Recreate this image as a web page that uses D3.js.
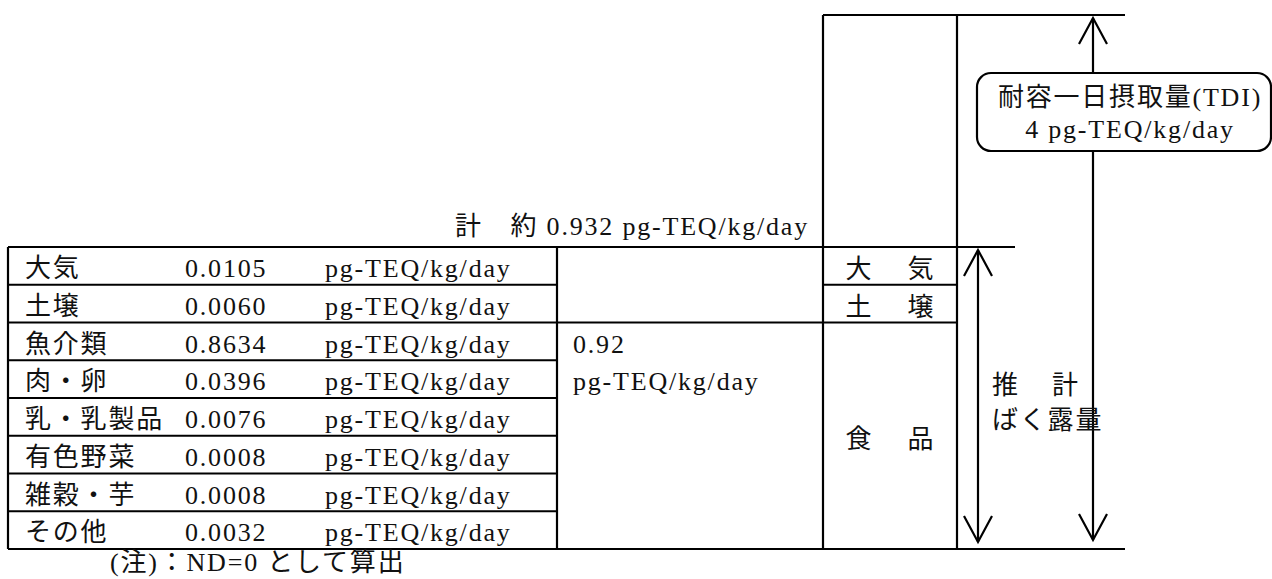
<!DOCTYPE html>
<html>
<head>
<meta charset="utf-8">
<script src="https://cdn.jsdelivr.net/npm/d3@7"></script>
<style>
  html, body { margin: 0; padding: 0; background: #fff; }
  svg text { font-family: 'Liberation Serif', 'Noto Sans CJK JP', serif; font-size: 26px; fill: #111; letter-spacing: 1.8px; }
</style>
</head>
<body>
<svg id="chart" width="1272" height="579"></svg>
<script>
// ---- data ----
const rowNames = ["大気", "土壌", "魚介類", "肉・卵", "乳・乳製品", "有色野菜", "雑穀・芋", "その他"];
const rowValues = [0.0105, 0.0060, 0.8634, 0.0396, 0.0076, 0.0008, 0.0008, 0.0032];
const unitLabel = "pg-TEQ/kg/day";
const foodTotal = 0.92;
const grandTotal = 0.932;
const tdiValue = 4;
const sourceLabels = ["大　気", "土　壌", "食　品"];
const sourceFirstRow = ["大気", "土壌", "魚介類"];
const sourceLastRow = ["大気", "土壌", "その他"];
const estimateLabel = ["推　計", "ばく露量"];
const tdiLabel = "耐容一日摂取量(TDI)";
const totalPrefix = "計　約";
const noteText = "(注)：ND=0 として算出";

// ---- layout ----
const svg = d3.select("#chart");
const y = d3.scaleBand().domain(rowNames).range([247, 549]).padding(0);
const rh = y.bandwidth();
const xL = 8, xMid = 557, xSrc = 823, xSrcR = 957, xTopR = 1015, xFar = 1125;
const colName = 25, colVal = 185, colUnit = 325;
const fmt = d3.format(".4f");
const base = d => y(d) + 30;

const g = svg.append("g").attr("stroke", "#000").attr("stroke-width", 2.2).attr("fill", "none");
function line(x1, y1, x2, y2) { g.append("line").attr("x1", x1).attr("y1", y1).attr("x2", x2).attr("y2", y2); }

const yTop = y(rowNames[0]);
const yBottom = y(rowNames[rowNames.length - 1]) + rh;

// outer structure
line(xL, yTop, xTopR, yTop);
line(xL, yBottom, xFar, yBottom);
line(xL, yTop, xL, yBottom);
line(xMid, yTop, xMid, yBottom);
line(xSrc, 15, xSrc, yBottom);
line(xSrcR, 15, xSrcR, yBottom);
line(xSrc, 15, xFar, 15);

// row lines
rowNames.slice(1).forEach(n => {
  const yy = y(n);
  if (n === "魚介類") line(xL, yy, xSrcR, yy);
  else if (n === "土壌") { line(xL, yy, xMid, yy); line(xSrc, yy, xSrcR, yy); }
  else line(xL, yy, xMid, yy);
});

// table text
const t = svg.append("g");
t.selectAll("text.name").data(rowNames).join("text").attr("class", "name")
  .attr("x", colName).attr("y", d => base(d)).text(d => d);
t.selectAll("text.val").data(rowValues).join("text").attr("class", "val")
  .attr("x", colVal).attr("y", (d, i) => base(rowNames[i])).text(d => fmt(d));
t.selectAll("text.unit").data(rowValues).join("text").attr("class", "unit")
  .attr("x", colUnit).attr("y", (d, i) => base(rowNames[i])).text(unitLabel);

// food subtotal
t.append("text").attr("x", xMid + 16).attr("y", base("魚介類")).text(d3.format(".2f")(foodTotal));
t.append("text").attr("x", xMid + 16).attr("y", base("肉・卵")).text(unitLabel);

// grand total
t.append("text").attr("x", xSrc - 14).attr("y", yTop - 12).attr("text-anchor", "end")
  .text(totalPrefix + " " + d3.format(".3f")(grandTotal) + " " + unitLabel);

// source labels
sourceLabels.forEach((s, i) => {
  const y0 = y(sourceFirstRow[i]), y1 = y(sourceLastRow[i]) + rh;
  t.append("text").attr("x", (xSrc + xSrcR) / 2 + 2).attr("y", (y0 + y1) / 2 + 12)
    .attr("text-anchor", "middle").style("letter-spacing", "5px").text(s);
});

// arrows
function arrow(x, y1, y2) {
  line(x, y1, x, y2);
  const hw = 14, hl = 26;
  g.append("path").attr("d", `M${x - hw},${y1 + hl}L${x},${y1}L${x + hw},${y1 + hl}`);
  g.append("path").attr("d", `M${x - hw},${y2 - hl}L${x},${y2}L${x + hw},${y2 - hl}`);
}
arrow(978, yTop + 3, yBottom - 7);
arrow(1093, 18, yBottom - 9);

// estimate label
t.append("text").attr("x", 992).attr("y", 394).style("letter-spacing", "4px").text(estimateLabel[0]);
t.append("text").attr("x", 992).attr("y", 429).text(estimateLabel[1]);

// TDI box
svg.append("rect").attr("x", 977).attr("y", 73).attr("width", 294).attr("height", 78)
  .attr("rx", 14).attr("fill", "#fff").attr("stroke", "#000").attr("stroke-width", 2.2);
t.raise();
svg.append("text").attr("x", 1130).attr("y", 106).attr("text-anchor", "middle").text(tdiLabel);
svg.append("text").attr("x", 1130).attr("y", 138).attr("text-anchor", "middle").text(tdiValue + " " + unitLabel);

// note
svg.append("text").attr("x", 110).attr("y", 571).text(noteText);
</script>
</body>
</html>
